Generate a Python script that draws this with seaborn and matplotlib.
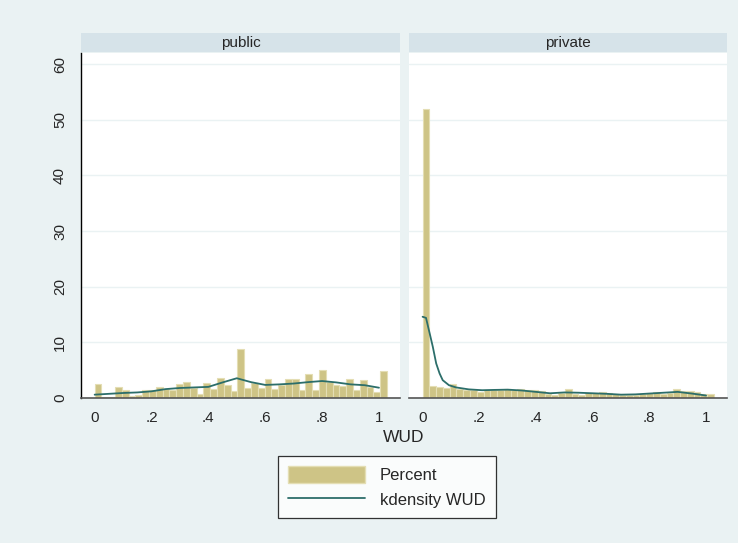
import numpy as np
import pandas as pd
import matplotlib
matplotlib.use('Agg')
import matplotlib.pyplot as plt
import seaborn as sns
from matplotlib.patches import Patch
from matplotlib.lines import Line2D

# histogram bins (same for both panels)
n_bins = 43
bin_width = 1.028 / n_bins
bin_edges = [k * bin_width for k in range(n_bins + 1)]
bin_centers = [e + bin_width / 2 for e in bin_edges[:-1]]

# bar heights in percent
public_pct = [2.5, 0.25, 0.25, 1.95, 1.4, 0.37, 0.55, 1.4, 1.4, 2.0,
              1.6, 1.45, 2.5, 2.8, 1.75, 0.67, 2.7, 1.7, 3.55, 2.3,
              1.2, 8.8, 1.8, 2.7, 1.8, 3.5, 1.65, 2.3, 3.4, 3.4,
              1.4, 4.3, 1.5, 5.0, 2.8, 2.4, 2.1, 3.4, 1.45, 3.2,
              2.0, 1.05, 4.8]
private_pct = [52.0, 2.1, 2.05, 1.8, 2.6, 1.65, 1.35, 1.4, 1.05, 1.5,
               1.45, 1.4, 1.7, 1.5, 1.6, 1.4, 1.5, 1.3, 0.7, 0.5,
               0.9, 1.6, 0.8, 0.6, 0.85, 0.9, 1.1, 0.85, 0.75, 0.6,
               0.6, 0.55, 0.65, 0.85, 1.1, 0.8, 0.9, 1.65, 1.3, 1.25,
               1.0, 0.65, 0.65]

# kernel density curves (scaled to percent)
public_kde_x = [0, .05, .1, .15, .2, .25, .3, .35, .4, .45, .5, .55, .6,
                .65, .7, .75, .8, .85, .9, .95, 1.0]
public_kde_y = [.6, .75, .9, 1.0, 1.2, 1.6, 1.8, 1.9, 2.0, 2.8, 3.55, 2.85,
                2.35, 2.45, 2.6, 2.85, 3.05, 2.8, 2.45, 2.3, 1.85]
private_kde_x = [0, .012, .025, .036, .048, .06, .071, .093, .118, .163, .21,
                 .25, .3, .35, .4, .45, .5, .55, .6, .65, .7, .75, .8, .85,
                 .9, .95, 1.0]
private_kde_y = [14.6, 14.4, 11.6, 9.2, 6.2, 4.4, 3.2, 2.3, 1.9, 1.55, 1.4,
                 1.45, 1.5, 1.35, 1.1, 0.85, 1.0, 0.95, 0.85, 0.75, 0.6, 0.65,
                 0.8, 0.95, 1.1, 0.8, 0.45]

panels = ["public", "private"]
xticks = [0, .2, .4, .6, .8, 1]
xticklabels = ["0", ".2", ".4", ".6", ".8", "1"]
yticks = [0, 10, 20, 30, 40, 50, 60]

BG = '#EAF2F3'
HEAD = '#D6E3E9'
BAR = '#CEC486'
BAR_EDGE = '#E4DEB4'
LINE = '#2C6E6A'

sns.set_style('white')
plt.rcParams['font.family'] = ['Liberation Sans', 'DejaVu Sans']

fig = plt.figure(figsize=(7.38, 5.43), dpi=100, facecolor=BG)

W, H = 738, 543
boxes = [(81, 400), (409, 727)]
top, bottom = 53, 398
data = [(public_pct, public_kde_x, public_kde_y),
        (private_pct, private_kde_x, private_kde_y)]

for i, (name, (x0, x1), (pct, kx, ky)) in enumerate(zip(panels, boxes, data)):
    ax = fig.add_axes([x0 / W, (H - bottom) / H, (x1 - x0) / W, (bottom - top) / H])
    ax.set_facecolor('white')
    hist_df = pd.DataFrame({'WUD': bin_centers, 'pct': pct})
    sns.histplot(data=hist_df, x='WUD', weights='pct', bins=bin_edges,
                 stat='count', color=BAR, alpha=1, edgecolor=BAR_EDGE,
                 linewidth=0.8, ax=ax)
    kde_df = pd.DataFrame({'WUD': kx, 'dens': ky})
    sns.lineplot(data=kde_df, x='WUD', y='dens', color=LINE, linewidth=1.3, ax=ax)
    ax.set_xlim(-0.048, 1.074)
    ax.set_ylim(0, 62)
    ax.set_yticks(yticks)
    ax.yaxis.grid(True, color=BG, linewidth=1)
    ax.set_axisbelow(True)
    ax.set_xticks(xticks)
    ax.set_xticklabels(xticklabels, fontsize=11)
    ax.set_xlabel('')
    ax.set_ylabel('')
    for s in ['top', 'right']:
        ax.spines[s].set_visible(False)
    ax.spines['bottom'].set_color('#555555')
    ax.spines['bottom'].set_linewidth(1.2)
    ax.tick_params(axis='x', direction='out', length=5, color='#333333', pad=4)
    if i == 0:
        ax.spines['left'].set_color('black')
        ax.spines['left'].set_linewidth(1)
        ax.set_yticklabels([str(t) for t in yticks], fontsize=11,
                           rotation=90, va='center')
        ax.tick_params(axis='y', direction='out', length=5, color='#333333', pad=5)
    else:
        ax.spines['left'].set_visible(False)
        ax.tick_params(axis='y', left=False, labelleft=False)

    hx = fig.add_axes([x0 / W, (H - 52) / H, (x1 - x0) / W, 19 / H])
    hx.set_facecolor(HEAD)
    hx.set_xticks([])
    hx.set_yticks([])
    for s in hx.spines.values():
        s.set_visible(False)
    hx.text(0.5, 0.5, name, ha='center', va='center', fontsize=11,
            transform=hx.transAxes)

fig.text(404 / W, (H - 438) / H, 'WUD', ha='center', va='center', fontsize=12.5)

handles = [Patch(facecolor=BAR, edgecolor=BAR_EDGE, label='Percent'),
           Line2D([0], [0], color=LINE, linewidth=1.3, label='kdensity WUD')]
leg = fig.legend(handles=handles, loc='center',
                 bbox_to_anchor=(387 / W, (H - 487) / H), fontsize=12,
                 frameon=True, fancybox=False, handlelength=4.6,
                 handleheight=1.2, handletextpad=0.9, borderpad=0.6,
                 labelspacing=0.5)
leg.get_frame().set_edgecolor('black')
leg.get_frame().set_linewidth(0.9)
leg.get_frame().set_facecolor('white')

fig.savefig('out.png', dpi=100, facecolor=BG)
